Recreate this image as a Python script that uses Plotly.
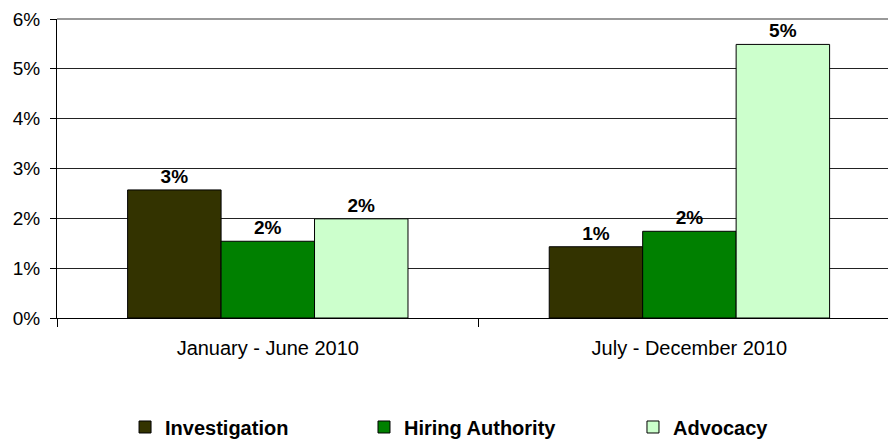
import plotly.graph_objects as go

periods = ["January - June 2010", "July - December 2010"]
investigation = [0.0257, 0.0143]
hiring_authority = [0.0154, 0.0174]
advocacy = [0.0199, 0.0549]
y_ticks = [0, 0.01, 0.02, 0.03, 0.04, 0.05, 0.06]

series = [
    ("Investigation", investigation, "#333300", "legend", 0.1318),
    ("Hiring Authority", hiring_authority, "#008000", "legend2", 0.4009),
    ("Advocacy", advocacy, "#CCFFCC", "legend3", 0.7038),
]

font_family = "Arial, Liberation Sans, sans-serif"

fig = go.Figure()

# the page body has an 8px margin, so the figure is sized to fit the window
legends = {}
for name, values, color, legend_id, lx in series:
    fig.add_trace(go.Bar(
        x=periods,
        y=values,
        name=name,
        marker=dict(color=color, line=dict(color="black", width=1)),
        texttemplate="%{y:.0%}",
        textposition="outside",
        textfont=dict(family=font_family, size=19, color="black", weight="bold"),
        cliponaxis=False,
        legend=legend_id,
    ))
    legends[legend_id] = dict(
        x=lx,
        y=0.0368,
        xref="container",
        yref="container",
        xanchor="left",
        yanchor="middle",
        orientation="h",
        bgcolor="rgba(0,0,0,0)",
        font=dict(family=font_family, size=20, color="black", weight="bold"),
    )

fig.update_layout(
    width=888,
    height=435,
    barmode="group",
    bargap=0.335,
    bargroupgap=0,
    plot_bgcolor="white",
    paper_bgcolor="white",
    margin=dict(l=49, r=0, t=11, b=125, autoexpand=False),
    font=dict(family=font_family, size=19, color="black"),
    showlegend=True,
    **legends,
    shapes=[
        dict(type="line", xref="paper", yref="paper", x0=0, x1=1, y0=1, y1=1,
             line=dict(color="#999999", width=2), layer="above"),
    ],
)

fig.update_xaxes(
    range=[-0.5, 1.49],
    automargin=False,
    showgrid=False,
    showline=True,
    linecolor="black",
    linewidth=1,
    ticks="outside",
    tickson="boundaries",
    ticklen=8,
    tickcolor="black",
    tickfont=dict(size=20),
    ticklabelstandoff=12,
)

fig.update_yaxes(
    range=[0, 0.06],
    tickvals=y_ticks,
    tickformat=".0%",
    automargin=False,
    ticklabeloverflow="allow",
    showgrid=True,
    gridcolor="#222222",
    gridwidth=1,
    zeroline=False,
    showline=True,
    linecolor="black",
    linewidth=1,
    ticks="outside",
    ticklen=6,
    tickcolor="black",
    tickfont=dict(size=19),
    ticklabelstandoff=6,
)

fig.write_html("out.html")
